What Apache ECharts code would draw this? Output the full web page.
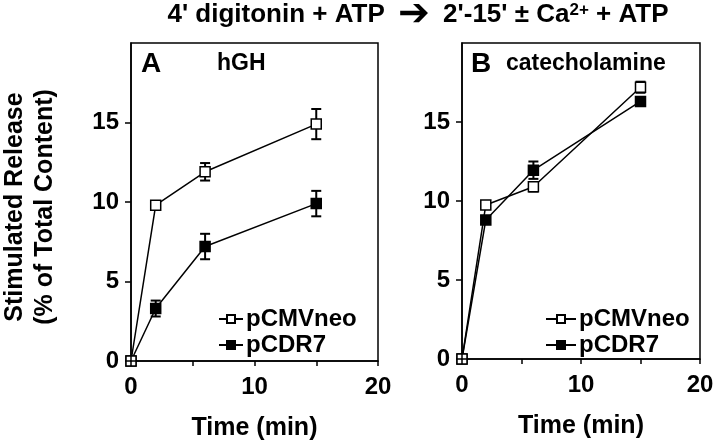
<!DOCTYPE html>
<html>
<head>
<meta charset="utf-8">
<script src="https://cdn.jsdelivr.net/npm/echarts@6/dist/echarts.min.js"></script>
<style>
html,body{margin:0;padding:0;background:#fff;}
#c{width:720px;height:446px;}
</style>
</head>
<body>
<div id="c"></div>
<script>
// ---- data ----
const times = [0, 2, 6, 15];
// Panel A: hGH
const hghNeo = [0, 9.8, 11.9, 14.9];
const hghNeoErr = [0, 0.2, 0.55, 0.95];
const hghCdr = [0, 3.3, 7.2, 9.9];
const hghCdrErr = [0, 0.5, 0.8, 0.8];
// Panel B: catecholamine
const catNeo = [0, 9.75, 10.9, 17.2];
const catNeoErr = [0, 0.15, 0.3, 0.35];
const catCdr = [0, 8.8, 11.95, 16.3];
const catCdrErr = [0, 0.2, 0.55, 0.25];
// ticks
const xTickValues = [0, 5, 10, 15, 20];
const xLabelValues = [0, 10, 20];
const yTickValues = [0, 5, 10, 15];
const yLabelValues = [0, 5, 10, 15];
const seriesNames = ['pCMVneo', 'pCDR7'];

const FONT = '"Liberation Sans", Arial, Helvetica, sans-serif';
const pts = (ys) => times.map((t, i) => [t, ys[i]]);
const errs = (ys, es) => times.map((t, i) => [t, ys[i] - es[i], ys[i] + es[i]]).filter((d, i) => es[i] > 0);

function errorSeries(name, data, idx) {
  return {
    type: 'custom', name: name, xAxisIndex: idx, yAxisIndex: idx, z: 3,
    data: data,
    renderItem: function (params, api) {
      const lo = api.coord([api.value(0), api.value(1)]);
      const hi = api.coord([api.value(0), api.value(2)]);
      const w = 5;
      const st = { stroke: '#000', lineWidth: 2 };
      return {
        type: 'group',
        children: [
          { type: 'line', shape: { x1: lo[0], y1: lo[1], x2: hi[0], y2: hi[1] }, style: st },
          { type: 'line', shape: { x1: lo[0] - w, y1: lo[1], x2: lo[0] + w, y2: lo[1] }, style: st },
          { type: 'line', shape: { x1: hi[0] - w, y1: hi[1], x2: hi[0] + w, y2: hi[1] }, style: st }
        ]
      };
    }
  };
}
function lineSeries(name, data, idx, filled) {
  return {
    type: 'line', name: name, xAxisIndex: idx, yAxisIndex: idx, data: data,
    symbol: 'rect', symbolSize: 10, clip: false, z: filled ? 4 : 5,
    lineStyle: { color: '#000', width: 1.5 },
    itemStyle: { color: filled ? '#000' : '#fff', borderColor: '#000', borderWidth: 1.5 },
    emphasis: { disabled: true }
  };
}
function xAxis(idx) {
  return {
    type: 'value', gridIndex: idx, min: 0, max: 20, interval: 5,
    axisLine: { onZero: false, lineStyle: { color: '#000', width: 1.5 } },
    axisTick: { length: 5, customValues: xTickValues, lineStyle: { color: '#000', width: 1.5 } },
    axisLabel: { customValues: xLabelValues, margin: 14, color: '#000', fontSize: 24, fontWeight: 'bold', fontFamily: FONT },
    splitLine: { show: false },
    name: 'Time (min)', nameLocation: 'middle', nameGap: 55,
    nameTextStyle: { color: '#000', fontSize: 25, fontWeight: 'bold', fontFamily: FONT },
    z: 6
  };
}
function yAxis(idx) {
  return {
    type: 'value', gridIndex: idx, min: 0, max: 20, interval: 5,
    axisLine: { onZero: false, lineStyle: { color: '#000', width: 1.5 } },
    axisTick: { length: 6, customValues: yTickValues, lineStyle: { color: '#000', width: 1.5 } },
    axisLabel: { customValues: yLabelValues, margin: 12, color: '#000', fontSize: 24, fontWeight: 'bold', fontFamily: FONT },
    splitLine: { show: false },
    z: 6
  };
}
function legend(left, itemWidth) {
  return {
    data: seriesNames, orient: 'vertical', left: left, top: 302, itemGap: 2,
    itemWidth: itemWidth, itemHeight: 10, selectedMode: false,
    textStyle: { color: '#000', fontSize: 24, fontWeight: 'bold', fontFamily: FONT, lineHeight: 20, padding: [0, 0, 0, -2] }
  };
}

const chart = echarts.init(document.getElementById('c'));
chart.setOption({
  animation: false,
  backgroundColor: '#fff',
  grid: [
    { left: 131, top: 43, width: 247, height: 318, show: true, borderColor: '#000', borderWidth: 1.5, backgroundColor: 'transparent' },
    { left: 462, top: 43, width: 238, height: 316, show: true, borderColor: '#000', borderWidth: 1.5, backgroundColor: 'transparent' }
  ],
  xAxis: [xAxis(0), xAxis(1)],
  yAxis: [yAxis(0), yAxis(1)],
  legend: [legend(213, 24), legend(540, 30)],
  series: [
    errorSeries('errA1', errs(hghNeo, hghNeoErr), 0),
    errorSeries('errA2', errs(hghCdr, hghCdrErr), 0),
    lineSeries('pCDR7', pts(hghCdr), 0, true),
    lineSeries('pCMVneo', pts(hghNeo), 0, false),
    errorSeries('errB1', errs(catNeo, catNeoErr), 1),
    errorSeries('errB2', errs(catCdr, catCdrErr), 1),
    lineSeries('pCDR7', pts(catCdr), 1, true),
    lineSeries('pCMVneo', pts(catNeo), 1, false)
  ],
  graphic: [
    {
      type: 'text', x: 418, y: 15,
      style: {
        text: "{t|4' digitonin + ATP }{ar|➔}{t| 2'-15' ± Ca}{s|2+}{t| + ATP}",
        align: 'center', verticalAlign: 'middle',
        rich: {
          t: { fontSize: 26, fontWeight: 'bold', fontFamily: FONT, fill: '#000', lineHeight: 30 },
          ar: { fontSize: 38, fontFamily: '"DejaVu Sans", sans-serif', fill: '#000', lineHeight: 30, padding: [0, 6, 0, 6] },
          s: { fontSize: 17, fontWeight: 'bold', fontFamily: FONT, fill: '#000', lineHeight: 30, verticalAlign: 'top', padding: [2, 0, 0, 0] }
        }
      }
    },
    {
      type: 'text', x: 30, y: 207, rotation: Math.PI / 2,
      style: {
        text: 'Stimulated Release\n(% of Total Content)',
        align: 'center', verticalAlign: 'middle',
        fontSize: 25, fontWeight: 'bold', fontFamily: FONT, fill: '#000', lineHeight: 30
      }
    },
    { type: 'text', x: 141, y: 64, style: { text: 'A', fontSize: 28, fontWeight: 'bold', fontFamily: FONT, fill: '#000', verticalAlign: 'middle' } },
    { type: 'text', x: 217, y: 64, style: { text: 'hGH', fontSize: 23, fontWeight: 'bold', fontFamily: FONT, fill: '#000', verticalAlign: 'middle' } },
    { type: 'text', x: 471, y: 64, style: { text: 'B', fontSize: 28, fontWeight: 'bold', fontFamily: FONT, fill: '#000', verticalAlign: 'middle' } },
    { type: 'text', x: 506, y: 64, style: { text: 'catecholamine', fontSize: 23, fontWeight: 'bold', fontFamily: FONT, fill: '#000', verticalAlign: 'middle' } }
  ]
});
</script>
</body>
</html>
